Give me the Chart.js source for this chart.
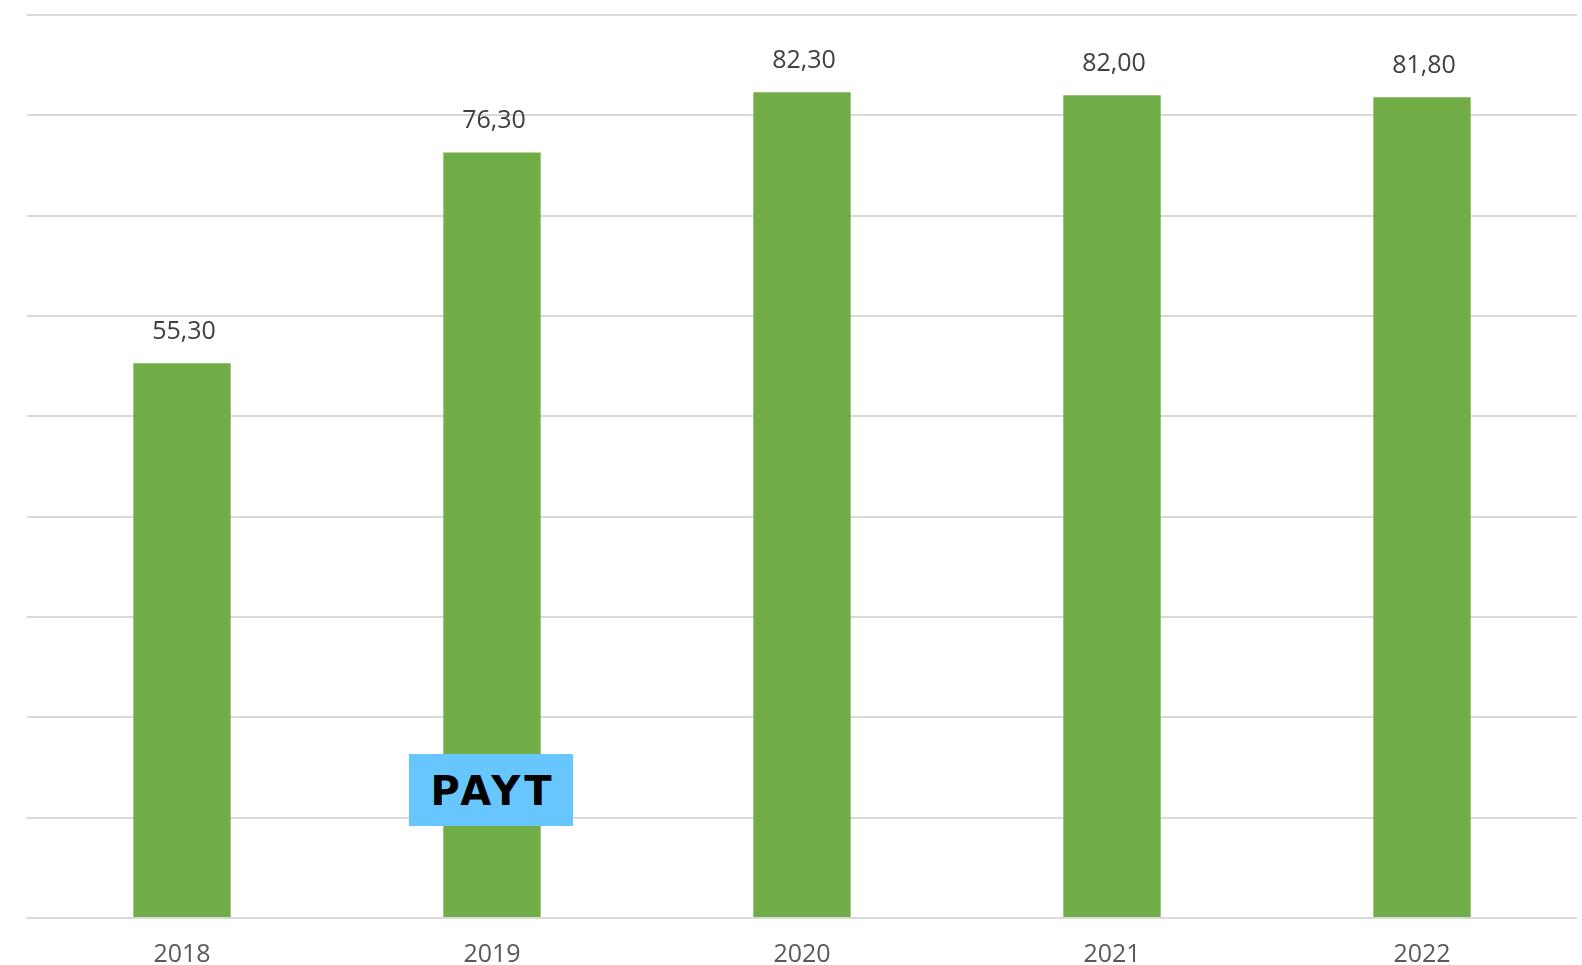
<!DOCTYPE html>
<html>
<head>
<meta charset="utf-8">
<script src="https://cdn.jsdelivr.net/npm/chart.js@4/dist/chart.umd.min.js"></script>
<style>
  html, body { margin: 0; padding: 0; background: #ffffff; }
  #wrap { position: relative; width: 1582px; height: 965px; }
  #c { display: block; }
  #badge {
    position: absolute; left: 409px; top: 754px; width: 164px; height: 72px;
    background: #66C6FD; color: #000; font-family: "DejaVu Sans", sans-serif;
    font-weight: bold; font-size: 40px; line-height: 74px; text-align: center;
    letter-spacing: 4px; text-indent: 4px;
  }
</style>
</head>
<body>
<div id="wrap">
  <canvas id="c" width="1582" height="965"></canvas>
  <div id="badge">PAYT</div>
</div>
<script>
const categories = ["2018", "2019", "2020", "2021", "2022"];
const values = [55.3, 76.3, 82.3, 82.0, 81.8];
const yMin = 0, yMax = 90, yStep = 10;

const labelPlugin = {
  id: 'valueLabels',
  afterDatasetsDraw(chart) {
    const ctx = chart.ctx;
    const meta = chart.getDatasetMeta(0);
    ctx.save();
    ctx.font = '25px "Open Sans", sans-serif';
    ctx.fillStyle = '#404040';
    ctx.textAlign = 'center';
    ctx.textBaseline = 'alphabetic';
    meta.data.forEach((bar, i) => {
      const txt = values[i].toFixed(2).replace('.', ',');
      ctx.fillText(txt, bar.x + 2, bar.y - 24);
    });
    ctx.restore();
  }
};

new Chart(document.getElementById('c'), {
  type: 'bar',
  data: {
    labels: categories,
    datasets: [{
      data: values,
      backgroundColor: '#70AD47',
      borderWidth: 0,
      barPercentage: 0.314,
      categoryPercentage: 1.0
    }]
  },
  options: {
    responsive: false,
    animation: false,
    devicePixelRatio: 1,
    layout: { padding: { left: 27, right: 5, top: 15, bottom: 0 } },
    plugins: { legend: { display: false }, tooltip: { enabled: false } },
    scales: {
      x: {
        grid: { display: false, drawTicks: false },
        border: { display: false },
        ticks: {
          color: '#595959',
          font: { family: '"Open Sans", sans-serif', size: 25, lineHeight: 1.0 },
          padding: 24
        },
        afterFit(scale) { scale.height = 47; }
      },
      y: {
        min: yMin, max: yMax,
        grid: { color: '#d9d9d9', lineWidth: 2, drawTicks: false },
        border: { display: false },
        ticks: { display: false, stepSize: yStep }
      }
    }
  },
  plugins: [labelPlugin]
});
</script>
</body>
</html>
